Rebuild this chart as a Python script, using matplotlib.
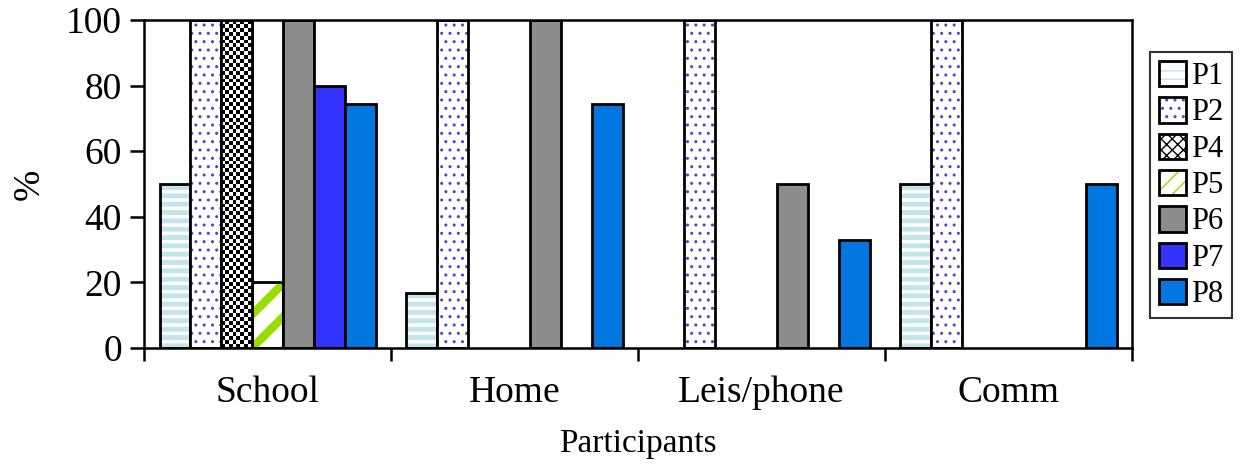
import numpy as np
import matplotlib.pyplot as plt
from matplotlib.patches import Patch
from matplotlib.legend_handler import HandlerTuple

plt.rcParams['font.family'] = ['Liberation Serif', 'DejaVu Serif']

categories = ['School', 'Home', 'Leis/phone', 'Comm']
series = ['P1', 'P2', 'P4', 'P5', 'P6', 'P7', 'P8']
values = {
    'P1': [50, 16.7, 0, 50],
    'P2': [100, 100, 100, 100],
    'P4': [100, 0, 0, 0],
    'P5': [20, 0, 0, 0],
    'P6': [100, 100, 50, 0],
    'P7': [80, 0, 0, 0],
    'P8': [74.5, 74.5, 33, 50],
}

# face, hatch, hatch colour, hatch linewidth
styles = {
    'P1': ('white', '--', '#c2e4ea', 3.5),
    'P2': ('white', '..', '#5b3fc4', 1.0),
    'P4': ('white', None, None, 1.0),
    'P5': ('white', '/', '#99dd00', 6.0),
    'P6': ('#8c8c8c', None, None, 1.0),
    'P7': ('#3333ff', None, None, 1.0),
    'P8': ('#0077e0', None, None, 1.0),
}

fig = plt.figure(figsize=(12.43, 4.66), dpi=100)
ax = fig.add_axes([0.1159, 0.2532, 0.7948, 0.7038])

w = 0.125
x = np.arange(len(categories))
handles = []
for j, s in enumerate(series):
    face, hatch, hc, hlw = styles[s]
    vals = np.array(values[s], dtype=float)
    keep = vals > 0
    pos = (x + (j - 3) * w)[keep]
    vals = vals[keep]
    if hatch:
        with plt.rc_context({'hatch.linewidth': hlw}):
            ax.bar(pos, vals, w, color=face, hatch=hatch, edgecolor=hc, linewidth=0)
        ax.bar(pos, vals, w, fill=False, edgecolor='black', linewidth=2)
        lh = hatch + hatch[0] if s == 'P5' else hatch
        with plt.rc_context({'hatch.linewidth': hlw}):
            h1 = Patch(facecolor=face, hatch=lh, edgecolor=hc, linewidth=0)
        h = (h1, Patch(fill=False, edgecolor='black', linewidth=2))
    elif s == 'P4':
        bars = ax.bar(pos, vals, w, color='white', edgecolor='black', linewidth=2)
        for b, v in zip(bars, vals):
            nrows = int(round(v / 100 * 84))
            checker = np.indices((nrows, 8)).sum(axis=0) % 2
            im = ax.imshow(checker, cmap='gray_r', interpolation='nearest',
                           extent=(b.get_x(), b.get_x() + w, 0, v),
                           aspect='auto', zorder=2)
            im.set_clip_path(b)
        ax.bar(pos, vals, w, fill=False, edgecolor='black', linewidth=2, zorder=3)
        h = Patch(facecolor='white', hatch='xxx', edgecolor='black', linewidth=2)
    else:
        ax.bar(pos, vals, w, color=face, edgecolor='black', linewidth=2)
        h = Patch(facecolor=face, edgecolor='black', linewidth=2)
    handles.append(h)

ax.set_xlim(-0.5, 3.5)
ax.set_ylim(0, 100)
ax.set_yticks([0, 20, 40, 60, 80, 100])
ax.set_xticks(x)
ax.set_xticklabels(categories)
ax.set_xticks(np.arange(-0.5, 4, 1), minor=True)
ax.tick_params(axis='x', which='major', length=0, labelsize=27, pad=20)
ax.tick_params(axis='x', which='minor', length=9, width=1.8, direction='out')
ax.tick_params(axis='y', length=10, width=1.8, direction='out', labelsize=27, pad=6)
for sp in ax.spines.values():
    sp.set_linewidth(1.8)

ax.set_xlabel('Participants', fontsize=24, labelpad=13)
ax.set_ylabel('%', fontsize=27, labelpad=14)

fig.legend(handles, series, loc='center left', bbox_to_anchor=(0.925, 0.603),
           handler_map={tuple: HandlerTuple(ndivide=1)},
           fontsize=22, frameon=True, fancybox=False, edgecolor='black',
           handlelength=0.9, handleheight=0.9, handletextpad=0.15,
           labelspacing=0.2, borderpad=0.3, borderaxespad=0)
fig.legends[0].get_frame().set_linewidth(1.5)

fig.savefig('out.png', dpi=100)
